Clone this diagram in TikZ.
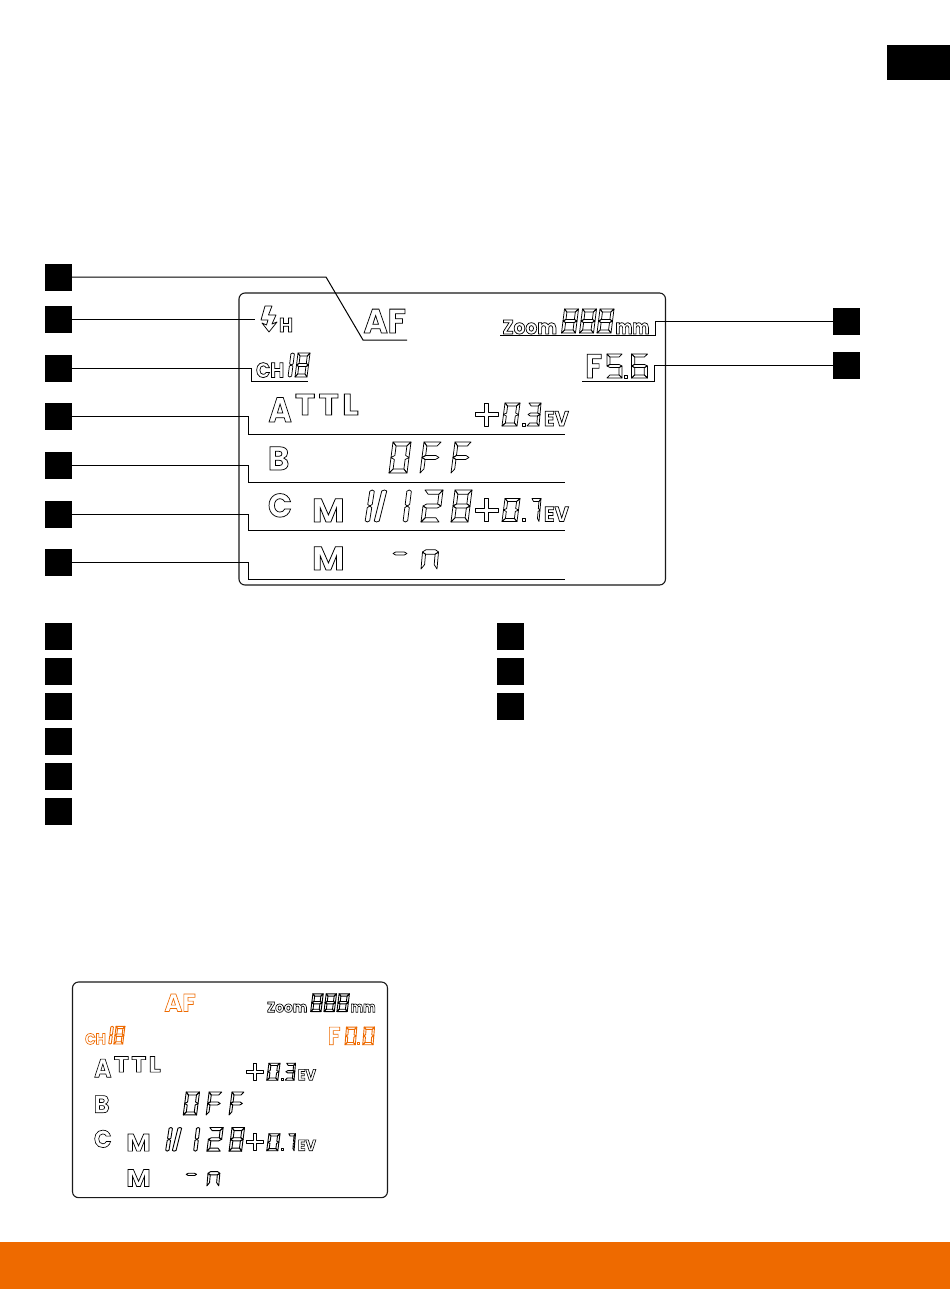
\documentclass[tikz,border=0pt]{standalone}
\usepackage{fontspec}
\setmainfont{Poppins}
\newfontfamily\lcdspaced{Poppins}[LetterSpace=10]
\definecolor{accent}{HTML}{EE6A00}
\definecolor{frameink}{HTML}{1A1A1A}
\def\lcdlw{0.75}
\tikzset{
  sq/.style={fill=black,draw=none,minimum size=27pt,inner sep=0pt,outer sep=0pt},
  conn/.style={draw=black,line width=1pt,line join=miter},
  seg/.style={draw,line width=\lcdlw pt,line join=round,fill=none},
  lcdtext/.style={inner sep=0pt,outer sep=0pt,anchor=base west,transform shape},
  lcdframe/.style={draw=frameink,line width=1.1pt,rounded corners=6pt},
}
% outlined text: stroke only
\newcommand\outl[1]{\special{pdf:code 1 Tr \lcdlw\space w}#1\special{pdf:code 0 Tr}}
% \lcdt{name}{x}{baseline}{size}{xscale}{options}{text}
\newcommand\lcdt[7]{\node[lcdtext,xscale=#5,#6] (#1) at (#2,#3) {\fontsize{#4}{#4}\selectfont\bfseries\outl{#7}};}
% seven segments, in a unit cell
\newcommand\spa{(0,1)--(1,1)--(.8,.87)--(.2,.87)--cycle}
\newcommand\spd{(0,0)--(1,0)--(.8,.13)--(.2,.13)--cycle}
\newcommand\spf{(0,1)--(.2,.87)--(.2,.565)--(0,.5)--cycle}
\newcommand\spb{(1,1)--(.8,.87)--(.8,.565)--(1,.5)--cycle}
\newcommand\spe{(0,0)--(.2,.13)--(.2,.435)--(0,.5)--cycle}
\newcommand\spc{(1,0)--(.8,.13)--(.8,.435)--(1,.5)--cycle}
\newcommand\spg{(0,.5)--(.2,.565)--(.8,.565)--(1,.5)--(.8,.435)--(.2,.435)--cycle}
\newcommand\spu{(.5,1)--(1,.96)--(1,.55)--(.5,.5)--(0,.55)--(0,.96)--cycle}
\newcommand\spv{(.5,.5)--(1,.45)--(1,.04)--(.5,0)--(0,.04)--(0,.45)--cycle}
\newcommand\spw{(.5,1)--(1,.97)--(1,.03)--(.5,0)--(0,.03)--(0,.97)--cycle}
\def\drawseg#1{\draw[seg] #1;}
% \SegD{x}{ybottom}{W}{H}{slant}{segments}
\newcommand\SegD[6]{\begin{scope}[shift={(#1,#2)},x={(#3pt,0pt)},y={(#5pt,#4pt)}]
  \foreach \s in {#6}{\expandafter\drawseg\csname sp\s\endcsname}
\end{scope}}
\newcommand\Dot[2]{\draw[seg] (#1,#2) rectangle ++(3,-3);}
\newcommand\Plus[2]{\draw[seg] (#1-11.5,#2-2)--(#1-2,#2-2)--(#1-2,#2-11.5)--(#1+2,#2-11.5)--(#1+2,#2-2)--(#1+11.5,#2-2)--(#1+11.5,#2+2)--(#1+2,#2+2)--(#1+2,#2+11.5)--(#1-2,#2+11.5)--(#1-2,#2+2)--(#1-11.5,#2+2)--cycle;}
% the whole display; #1 accent colour
\newcommand\LCD[1]{%
  \draw[lcdframe] (239,293) rectangle (665.5,585);
  \lcdt{af}{363.5}{333}{34}{.97}{text=#1}{AF}
  \lcdt{ch}{256}{377.5}{21}{.9}{text=#1}{CH}
  \begin{scope}[color=#1]
    \SegD{288}{377}{3.5}{24}{3}{u,v}
    \SegD{295}{377}{12}{24}{3}{a,b,c,d,e,f,g}
  \end{scope}
  \lcdt{zoomw}{502.5}{334}{20}{.93}{}{Zoom}
  \SegD{561.5}{333}{14}{24}{3}{a,b,c,d,e,f,g}
  \SegD{579.5}{333}{14}{24}{3}{a,b,c,d,e,f,g}
  \SegD{597}{333}{14}{24}{3}{a,b,c,d,e,f,g}
  \lcdt{mmw}{615.5}{334}{20}{.8}{}{mm}
  \lcdt{la}{268.5}{422}{35}{.9}{}{A}
  \node[lcdtext,xscale=1.14] (ttl) at (295,415) {\fontsize{30}{30}\selectfont\bfseries\lcdspaced\bfseries\outl{TTL}};
  \Plus{486.5}{414.5}
  \SegD{502}{426}{15}{23}{3}{a,b,c,d,e,f}
  \Dot{522}{426}
  \SegD{527}{426}{12}{23}{2}{a,b,c,d,g}
  \lcdt{eva}{544}{426}{21}{.93}{}{EV}
  \lcdt{lb}{268}{470}{33}{.98}{}{B}
  \SegD{389}{473}{18}{31}{4}{a,b,c,d,e,f}
  \SegD{420}{473}{17}{31}{4}{a,e,f,g}
  \SegD{451}{473}{16}{31}{4}{a,e,f,g}
  \lcdt{lc}{268}{517}{33}{.95}{}{C}
  \lcdt{lm}{312}{522}{33}{1.08}{}{M}
  \SegD{365}{522}{4.5}{32}{5}{u,v}
  \SegD{374}{522}{5}{32}{8}{w}
  \SegD{403}{522}{4.5}{32}{4}{u,v}
  \SegD{421}{522}{18}{32}{4}{a,b,d,e,g}
  \SegD{451}{522}{17}{32}{4}{a,b,c,d,e,f,g}
  \Plus{486.5}{510}
  \SegD{502}{521.5}{15}{23}{3}{a,b,c,d,e,f}
  \Dot{522}{521.5}
  \SegD{530}{521.5}{9}{23}{2}{a,b,c}
  \lcdt{evc}{544}{521.5}{21}{.93}{}{EV}
  \lcdt{lmm}{312}{570}{33}{1.08}{}{M}
  \SegD{393}{565.5}{14}{24}{0}{g}
  \SegD{421}{569}{16}{34}{3}{g,e,c}
}
\begin{document}
\begin{tikzpicture}[x=1pt,y=-1pt]
\useasboundingbox[fill=white] (0,0) rectangle (950,1289);
\fill[black] (887,45) rectangle (950,80);
\fill[accent] (0,1242) rectangle (950,1289);

% main display
\begin{scope}[name prefix=m-]
\LCD{black}
\end{scope}
\draw[seg] (265,306)--(272,306)--(268.5,315)--(276,315)--(272,324)--(277,322)--(269,332)--(262,323)--(266.5,325)--(268,320)--(261,320)--cycle;
\lcdt{flashh}{279}{332}{20}{.95}{}{H}
\lcdt{fmain}{585.4}{378}{34}{.9}{}{F}
\SegD{607}{378}{15}{24}{0}{a,f,g,c,d}
\Dot{624.5}{378}
\SegD{631.5}{378}{16}{24}{0}{a,f,g,e,c,d}

% numbered markers on the left
\node[sq] (n1) at (58.5,277) {};
\node[sq] (n2) at (58.5,319) {};
\node[sq] (n3) at (58.5,368) {};
\node[sq] (n4) at (58.5,416.5) {};
\node[sq] (n5) at (58.5,465) {};
\node[sq] (n6) at (58.5,514) {};
\node[sq] (n7) at (58.5,562) {};
\node[sq] (n8) at (846.5,321) {};
\node[sq] (n9) at (846.5,365) {};

\coordinate (e1) at (407,340);
\coordinate (e2) at (255,319);
\coordinate (e3) at (308,381);
\coordinate (e4) at (565,434);
\coordinate (e5) at (565,482);
\coordinate (e6) at (565,530);
\coordinate (e7) at (565,579);
\coordinate (e8) at (500,335.5);
\coordinate (e9) at (582,381);
\draw[conn] (n1.east) -- ++(254,0) -- (363,340) -- (e1);
\draw[conn] (n2.east) -- (e2);
\draw[conn] (n3.east) -- ++(179,0) |- (e3);
\draw[conn] (n4.east) -- ++(176,0) |- (e4);
\draw[conn] (n5.east) -- ++(176,0) |- (e5);
\draw[conn] (n6.east) -- ++(176,0) |- (e6);
\draw[conn] (n7.east) -- ++(176,0) |- (e7);
\draw[conn] (n8.west) -- ++(-178,0) |- (e8);
\draw[conn] (n9.west) -- ++(-179,0) |- (e9);

% legend markers
\node[sq] (l1) at (58.5,636) {};
\node[sq] (l2) at (58.5,671) {};
\node[sq] (l3) at (58.5,706) {};
\node[sq] (l4) at (58.5,741) {};
\node[sq] (l5) at (58.5,776) {};
\node[sq] (l6) at (58.5,811) {};
\node[sq] (r1) at (510.5,636) {};
\node[sq] (r2) at (510.5,671) {};
\node[sq] (r3) at (510.5,706) {};

% small display
\begin{scope}[name prefix=s-,shift={(72.5,982)},scale=.7385,shift={(-239,-293)}]
\def\lcdlw{0.9}
\LCD{accent}
\lcdt{fsmall}{585}{378}{34}{.9}{text=accent}{F}
\begin{scope}[color=accent]
\SegD{608}{378}{14}{24}{2}{a,b,c,d,e,f}
\Dot{625}{378}
\SegD{632}{378}{14}{24}{2}{a,b,c,d,e,f}
\end{scope}
\end{scope}
\end{tikzpicture}
\end{document}
